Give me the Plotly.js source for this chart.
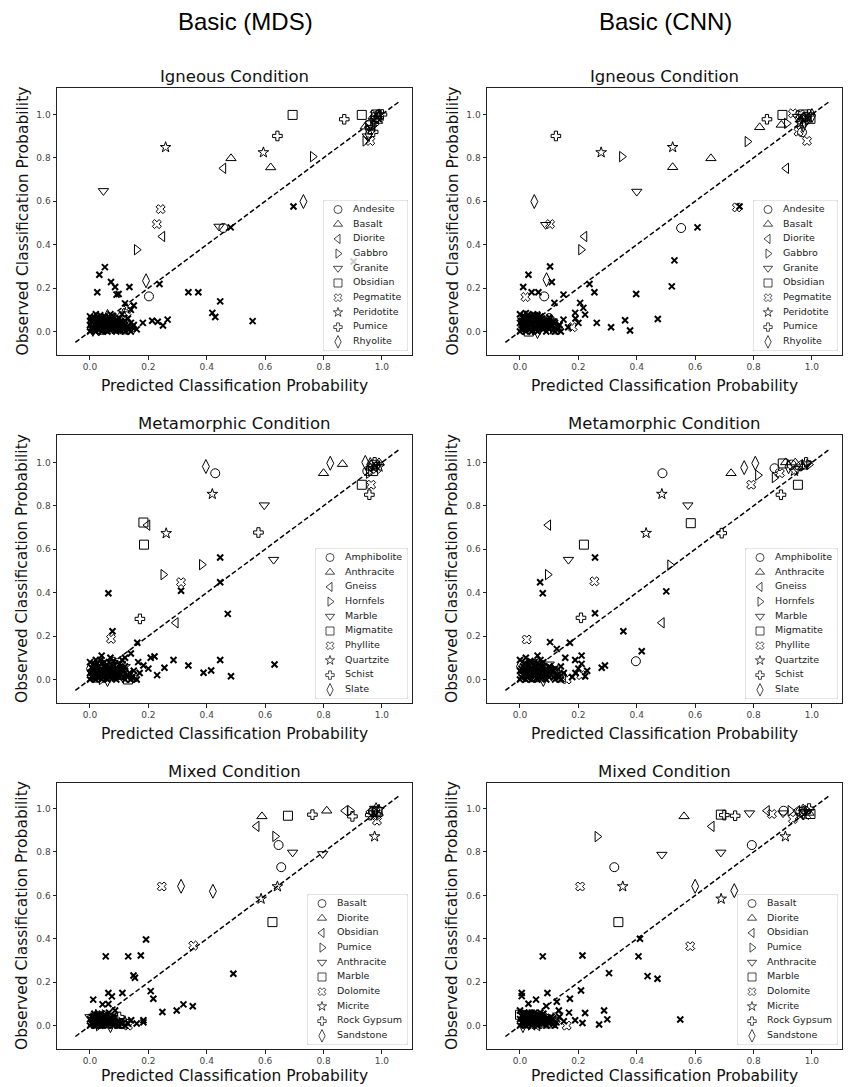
<!DOCTYPE html>
<html>
<head>
<meta charset="utf-8">
<script src="https://cdn.plot.ly/plotly-3.0.1.min.js"></script>
<style>html,body{margin:0;padding:0;background:#fff}#chart{width:849px;height:1087px}</style>
</head>
<body>
<div id="chart"></div>
<script>
// ---------- categories & labels ----------
const COLUMN_TITLES = ['Basic (MDS)', 'Basic (CNN)'];
const ROW_TITLES = ['Igneous Condition', 'Metamorphic Condition', 'Mixed Condition'];
const X_LABEL = 'Predicted Classification Probability';
const Y_LABEL = 'Observed Classification Probability';
const TICKS = [0, 0.2, 0.4, 0.6, 0.8, 1.0];
const DIAGONAL = [-0.05, 1.06];

const IGNEOUS_CLASSES = ['Andesite','Basalt','Diorite','Gabbro','Granite','Obsidian','Pegmatite','Peridotite','Pumice','Rhyolite'];
const METAMORPHIC_CLASSES = ['Amphibolite','Anthracite','Gneiss','Hornfels','Marble','Migmatite','Phyllite','Quartzite','Schist','Slate'];
const MIXED_CLASSES = ['Basalt','Diorite','Obsidian','Pumice','Anthracite','Marble','Dolomite','Micrite','Rock Gypsum','Sandstone'];

// ---------- Igneous, MDS ----------
const IGN_MDS_ANDESITE = [[0.457,0.477],[0.202,0.162],[0.96,0.93],[0.975,0.975],[0.04,0.03],[0.09,0.02],[0.11,0.07]];
const IGN_MDS_BASALT = [[0.483,0.798],[0.619,0.756],[0.943,0.944],[0.97,0.99],[0.985,0.97],[0.03,0.05],[0.07,0.02]];
const IGN_MDS_DIORITE = [[0.457,0.752],[0.248,0.438],[0.955,0.96],[0.99,0.995],[0.05,0.06],[0.02,0.02]];
const IGN_MDS_GABBRO = [[0.763,0.806],[0.16,0.377],[0.943,0.878],[0.975,0.955],[0.06,0.01],[0.1,0.04]];
const IGN_MDS_GRANITE = [[0.046,0.648],[0.442,0.484],[0.95,0.9],[0.98,0.98],[0.03,0.0],[0.08,0.06]];
const IGN_MDS_OBSIDIAN = [[0.694,0.998],[0.931,0.998],[0.98,1.0],[0.96,0.95],[0.01,0.04],[0.12,0.01]];
const IGN_MDS_PEGMATITE = [[0.242,0.564],[0.229,0.495],[0.96,0.878],[0.975,1.0],[0.99,0.985],[0.131,0.109],[0.125,0.088],[0.05,0.02]];
const IGN_MDS_PERIDOTITE = [[0.259,0.849],[0.594,0.825],[0.965,0.94],[0.99,1.0],[0.02,0.06],[0.07,0.04]];
const IGN_MDS_PUMICE = [[0.871,0.978],[0.642,0.901],[0.97,0.92],[1.0,1.0],[0.04,0.01],[0.09,0.05]];
const IGN_MDS_RHYOLITE = [[0.731,0.599],[0.192,0.234],[0.955,0.91],[0.985,0.99],[0.01,0.01],[0.06,0.07]];
const IGN_MDS_OTHER = [[0.051,0.297],[0.032,0.262],[0.072,0.228],[0.086,0.205],[0.135,0.205],[0.025,0.181],[0.091,0.17],[0.098,0.173],[0.238,0.219],[0.337,0.181],[0.371,0.181],[0.446,0.139],[0.419,0.086],[0.429,0.067],[0.557,0.048],[0.697,0.576],[0.482,0.48],[0.903,0.323],[0.181,0.04],[0.213,0.05],[0.232,0.045],[0.25,0.028],[0.266,0.055],[0.15,0.12],[0.14,0.1],[0.12,0.13],
 [0.0,0.0],[0.01,0.01],[0.02,0.0],[0.0,0.03],[0.01,0.05],[0.0,0.07],[0.02,0.03],[0.03,0.01],[0.03,0.06],[0.02,0.08],[0.04,0.0],[0.04,0.04],[0.05,0.02],[0.05,0.07],[0.06,0.0],[0.06,0.05],[0.07,0.03],[0.07,0.08],[0.08,0.01],[0.08,0.05],[0.09,0.0],[0.09,0.03],[0.1,0.06],[0.1,0.01],[0.11,0.03],[0.12,0.0],[0.12,0.05],[0.13,0.02],[0.14,0.0],[0.15,0.03],[0.015,0.065],[0.035,0.025],[0.045,0.055],[0.055,0.035],[0.065,0.065],[0.075,0.015],[0.085,0.04],[0.095,0.02],[0.105,0.045],[0.115,0.01],[0.01,0.02],[0.025,0.045],[0.16,0.01],[0.11,0.08],[0.13,0.06],
 [0.005,0.015],[0.005,0.045],[0.015,0.005],[0.015,0.035],[0.025,0.015],[0.025,0.065],[0.035,0.045],[0.035,0.075],[0.045,0.01],[0.045,0.03],[0.055,0.005],[0.055,0.055],[0.065,0.015],[0.065,0.04],[0.075,0.035],[0.075,0.055],[0.085,0.005],[0.085,0.025],[0.095,0.045],[0.105,0.02],[0.105,0.005],[0.115,0.04],[0.125,0.02],[0.135,0.01],[0.145,0.02],[0.005,0.06],[0.02,0.055],[0.04,0.065],[0.06,0.025],[0.08,0.07],[0.1,0.035],[0.12,0.03],[0.14,0.04],[0.03,0.04]];

// ---------- Igneous, CNN ----------
const IGN_CNN_ANDESITE = [[0.552,0.477],[0.083,0.162],[0.966,0.918],[0.98,0.99],[0.03,0.03],[0.08,0.05]];
const IGN_CNN_BASALT = [[0.523,0.757],[0.654,0.798],[0.821,0.941],[0.895,0.952],[0.97,0.99],[0.04,0.06],[0.1,0.02]];
const IGN_CNN_DIORITE = [[0.912,0.752],[0.221,0.438],[0.96,0.97],[0.99,0.99],[0.02,0.02],[0.06,0.07]];
const IGN_CNN_GABBRO = [[0.349,0.806],[0.779,0.875],[0.914,0.959],[0.209,0.377],[0.985,0.97],[0.05,0.01]];
const IGN_CNN_GRANITE = [[0.4,0.645],[0.088,0.492],[0.95,0.99],[0.975,0.96],[0.01,0.05],[0.09,0.03]];
const IGN_CNN_OBSIDIAN = [[0.899,0.998],[0.97,1.0],[0.995,0.98],[0.03,0.0],[0.12,0.01]];
const IGN_CNN_PEGMATITE = [[0.935,1.005],[0.954,0.921],[0.983,0.878],[0.743,0.572],[0.103,0.495],[0.019,0.159],[0.96,1.0],[0.07,0.04],[0.18,0.02]];
const IGN_CNN_PERIDOTITE = [[0.278,0.825],[0.523,0.849],[0.975,0.985],[0.96,0.96],[0.02,0.07],[0.11,0.05]];
const IGN_CNN_PUMICE = [[0.123,0.901],[0.846,0.978],[0.99,1.0],[0.04,0.02],[0.1,0.06]];
const IGN_CNN_RHYOLITE = [[0.049,0.599],[0.091,0.239],[0.97,0.95],[1.0,0.995],[0.06,0.0],[0.01,0.03]];
const IGN_CNN_OTHER = [[0.752,0.576],[0.608,0.48],[0.529,0.328],[0.52,0.208],[0.103,0.3],[0.029,0.262],[0.109,0.228],[0.011,0.205],[0.04,0.181],[0.063,0.181],[0.238,0.219],[0.255,0.181],[0.149,0.17],[0.118,0.132],[0.398,0.173],[0.206,0.132],[0.217,0.109],[0.189,0.086],[0.223,0.078],[0.263,0.04],[0.312,0.02],[0.36,0.052],[0.377,0.005],[0.472,0.058],[0.2,0.04],[0.149,0.055],[0.135,0.03],[0.165,0.02],[0.19,0.06],
 [0.0,0.0],[0.01,0.02],[0.02,0.0],[0.0,0.04],[0.01,0.06],[0.0,0.08],[0.02,0.04],[0.03,0.02],[0.03,0.07],[0.02,0.085],[0.04,0.0],[0.04,0.05],[0.05,0.02],[0.05,0.075],[0.06,0.0],[0.06,0.05],[0.07,0.03],[0.07,0.07],[0.08,0.01],[0.08,0.05],[0.09,0.0],[0.09,0.03],[0.1,0.05],[0.1,0.01],[0.11,0.03],[0.12,0.0],[0.12,0.04],[0.13,0.02],[0.14,0.0],[0.015,0.07],[0.035,0.03],[0.045,0.06],[0.055,0.04],[0.065,0.065],[0.075,0.015],[0.085,0.04],[0.095,0.02],[0.105,0.04],[0.115,0.01],[0.01,0.03],[0.025,0.05],
 [0.005,0.01],[0.005,0.05],[0.015,0.015],[0.015,0.045],[0.025,0.025],[0.025,0.075],[0.035,0.05],[0.035,0.01],[0.045,0.035],[0.045,0.08],[0.055,0.01],[0.055,0.06],[0.065,0.02],[0.065,0.045],[0.075,0.04],[0.075,0.06],[0.085,0.02],[0.095,0.04],[0.105,0.025],[0.115,0.045],[0.125,0.01],[0.135,0.03],[0.02,0.065],[0.06,0.075],[0.08,0.03],[0.1,0.065],[0.03,0.045],[0.05,0.045]];

// ---------- Metamorphic, MDS ----------
const MET_MDS_AMPHIBOLITE = [[0.429,0.95],[0.97,0.99],[0.95,0.96],[0.03,0.02],[0.08,0.04]];
const MET_MDS_ANTHRACITE = [[0.8,0.95],[0.865,0.992],[0.96,0.975],[0.99,1.0],[0.05,0.05],[0.1,0.01]];
const MET_MDS_GNEISS = [[0.197,0.711],[0.294,0.261],[0.975,0.98],[0.02,0.06],[0.07,0.02]];
const MET_MDS_HORNFELS = [[0.383,0.529],[0.251,0.483],[0.955,0.95],[0.04,0.0],[0.11,0.05]];
const MET_MDS_MARBLE = [[0.597,0.803],[0.629,0.552],[0.985,0.99],[0.01,0.03],[0.09,0.07]];
const MET_MDS_MIGMATITE = [[0.183,0.723],[0.185,0.621],[0.931,0.897],[0.97,0.96],[0.06,0.04],[0.13,0.0]];
const MET_MDS_PHYLLITE = [[0.312,0.448],[0.072,0.187],[0.963,0.897],[0.98,0.97],[0.1,0.03],[0.15,0.01],[0.05,0.07]];
const MET_MDS_QUARTZITE = [[0.419,0.854],[0.261,0.673],[0.99,0.98],[0.03,0.04],[0.12,0.06]];
const MET_MDS_SCHIST = [[0.577,0.677],[0.171,0.279],[0.957,0.851],[0.975,1.0],[0.02,0.01],[0.08,0.08]];
const MET_MDS_SLATE = [[0.397,0.981],[0.823,0.996],[0.943,1.0],[0.96,0.99],[0.06,0.0],[0.0,0.05]];
const MET_MDS_OTHER = [[0.446,0.562],[0.446,0.448],[0.472,0.302],[0.312,0.409],[0.063,0.397],[0.077,0.222],[0.162,0.169],[0.221,0.106],[0.255,0.054],[0.286,0.09],[0.337,0.064],[0.389,0.031],[0.415,0.041],[0.446,0.09],[0.483,0.015],[0.632,0.069],[0.183,0.064],[0.208,0.1],[0.165,0.08],[0.14,0.12],[0.12,0.1],[0.17,0.03],[0.2,0.05],[0.23,0.02],
 [0.0,0.0],[0.01,0.01],[0.02,0.0],[0.0,0.03],[0.01,0.05],[0.0,0.08],[0.02,0.03],[0.03,0.01],[0.03,0.06],[0.02,0.09],[0.04,0.0],[0.04,0.04],[0.05,0.02],[0.05,0.08],[0.06,0.0],[0.06,0.05],[0.07,0.03],[0.07,0.1],[0.08,0.01],[0.08,0.06],[0.09,0.0],[0.09,0.03],[0.1,0.07],[0.1,0.01],[0.11,0.04],[0.12,0.0],[0.12,0.06],[0.13,0.02],[0.14,0.0],[0.15,0.04],[0.015,0.07],[0.035,0.025],[0.045,0.06],[0.055,0.035],[0.065,0.08],[0.075,0.015],[0.085,0.045],[0.095,0.02],[0.105,0.05],[0.115,0.01],[0.16,0.0],[0.04,0.11],[0.11,0.09],
 [0.005,0.015],[0.005,0.055],[0.015,0.005],[0.015,0.04],[0.025,0.015],[0.025,0.075],[0.035,0.045],[0.035,0.09],[0.045,0.01],[0.045,0.03],[0.055,0.005],[0.055,0.06],[0.065,0.02],[0.065,0.045],[0.075,0.04],[0.075,0.065],[0.085,0.005],[0.085,0.025],[0.095,0.05],[0.105,0.025],[0.115,0.045],[0.125,0.015],[0.135,0.03],[0.145,0.01],[0.02,0.06],[0.04,0.075],[0.06,0.03],[0.08,0.085],[0.1,0.04],[0.03,0.04]];

// ---------- Metamorphic, CNN ----------
const MET_CNN_AMPHIBOLITE = [[0.488,0.95],[0.397,0.084],[0.872,0.973],[0.93,0.99],[0.03,0.03],[0.09,0.05]];
const MET_CNN_ANTHRACITE = [[0.723,0.95],[0.943,0.999],[0.91,1.0],[0.97,0.98],[0.05,0.0],[0.12,0.04]];
const MET_CNN_GNEISS = [[0.097,0.711],[0.486,0.261],[0.96,0.99],[0.02,0.05],[0.08,0.02]];
const MET_CNN_HORNFELS = [[0.815,0.941],[0.872,0.93],[0.514,0.527],[0.095,0.483],[0.99,0.99],[0.06,0.06]];
const MET_CNN_MARBLE = [[0.575,0.803],[0.166,0.552],[0.983,0.992],[0.95,0.97],[0.01,0.02],[0.1,0.07]];
const MET_CNN_MIGMATITE = [[0.585,0.72],[0.219,0.621],[0.952,0.897],[0.9,0.995],[0.04,0.07],[0.14,0.01]];
const MET_CNN_PHYLLITE = [[0.792,0.897],[0.255,0.452],[0.023,0.184],[0.89,0.95],[0.07,0.03],[0.16,0.0],[0.21,0.02]];
const MET_CNN_QUARTZITE = [[0.486,0.854],[0.432,0.674],[0.94,0.96],[0.03,0.01],[0.11,0.05]];
const MET_CNN_SCHIST = [[0.691,0.674],[0.894,0.851],[0.209,0.284],[0.98,1.0],[0.05,0.04],[0.13,0.03]];
const MET_CNN_SLATE = [[0.768,0.976],[0.806,0.996],[0.92,0.98],[0.0,0.06],[0.08,0.0]];
const MET_CNN_OTHER = [[0.257,0.562],[0.069,0.448],[0.078,0.397],[0.257,0.305],[0.501,0.406],[0.354,0.222],[0.417,0.13],[0.28,0.054],[0.291,0.064],[0.211,0.11],[0.211,0.072],[0.223,0.015],[0.179,0.011],[0.19,0.03],[0.171,0.169],[0.103,0.172],[0.126,0.141],[0.189,0.09],[0.155,0.1],[0.14,0.06],[0.2,0.05],[0.23,0.04],
 [0.0,0.0],[0.01,0.02],[0.02,0.0],[0.0,0.04],[0.01,0.06],[0.0,0.09],[0.02,0.04],[0.03,0.02],[0.03,0.07],[0.02,0.1],[0.04,0.0],[0.04,0.05],[0.05,0.02],[0.05,0.08],[0.06,0.0],[0.06,0.05],[0.07,0.03],[0.07,0.09],[0.08,0.01],[0.08,0.06],[0.09,0.0],[0.09,0.03],[0.1,0.06],[0.1,0.01],[0.11,0.04],[0.12,0.0],[0.12,0.05],[0.13,0.02],[0.14,0.0],[0.015,0.075],[0.035,0.03],[0.045,0.065],[0.055,0.035],[0.065,0.07],[0.075,0.015],[0.085,0.045],[0.095,0.02],[0.105,0.05],[0.115,0.01],[0.15,0.03],[0.06,0.11],
 [0.005,0.01],[0.005,0.05],[0.015,0.02],[0.015,0.045],[0.025,0.01],[0.025,0.06],[0.035,0.05],[0.035,0.085],[0.045,0.02],[0.045,0.04],[0.055,0.005],[0.055,0.06],[0.065,0.02],[0.065,0.045],[0.075,0.04],[0.075,0.075],[0.085,0.005],[0.085,0.025],[0.095,0.045],[0.105,0.025],[0.115,0.04],[0.125,0.02],[0.135,0.01],[0.02,0.07],[0.04,0.08],[0.06,0.03],[0.08,0.08],[0.1,0.035],[0.03,0.045]];

// ---------- Mixed, MDS ----------
const MIX_MDS_BASALT = [[0.646,0.832],[0.655,0.73],[0.97,0.99],[0.02,0.02],[0.06,0.01]];
const MIX_MDS_DIORITE = [[0.589,0.964],[0.811,0.99],[0.98,0.98],[0.04,0.04],[0.1,0.0]];
const MIX_MDS_OBSIDIAN = [[0.571,0.918],[0.874,0.99],[0.96,0.985],[0.01,0.01],[0.08,0.03]];
const MIX_MDS_PUMICE = [[0.634,0.872],[0.891,0.99],[0.99,0.97],[0.03,0.0],[0.05,0.05]];
const MIX_MDS_ANTHRACITE = [[0.694,0.798],[0.797,0.791],[0.975,1.0],[0.07,0.02],[0.0,0.04]];
const MIX_MDS_MARBLE = [[0.678,0.967],[0.625,0.477],[0.985,0.985],[0.05,0.03],[0.11,0.01]];
const MIX_MDS_DOLOMITE = [[0.246,0.641],[0.354,0.369],[0.983,0.944],[0.97,0.97],[0.09,0.02],[0.13,0.0]];
const MIX_MDS_MICRITE = [[0.642,0.641],[0.586,0.584],[0.975,0.871],[0.99,0.995],[0.02,0.05],[0.12,0.02]];
const MIX_MDS_ROCK_GYPSUM = [[0.762,0.972],[0.899,0.964],[0.96,0.97],[0.04,0.01],[0.1,0.04]];
const MIX_MDS_SANDSTONE = [[0.312,0.642],[0.421,0.619],[0.98,0.995],[0.01,0.03],[0.07,0.0]];
const MIX_MDS_OTHER = [[0.192,0.397],[0.054,0.319],[0.131,0.319],[0.174,0.323],[0.149,0.231],[0.154,0.221],[0.491,0.239],[0.063,0.15],[0.075,0.135],[0.111,0.15],[0.208,0.159],[0.217,0.124],[0.011,0.12],[0.043,0.098],[0.063,0.1],[0.086,0.07],[0.248,0.063],[0.297,0.07],[0.32,0.098],[0.352,0.089],[0.183,0.025],[0.183,0.015],[0.141,0.025],[0.12,0.0],[0.16,0.01],[0.13,0.01],
 [0.0,0.0],[0.01,0.01],[0.02,0.0],[0.0,0.03],[0.01,0.04],[0.02,0.02],[0.03,0.01],[0.03,0.05],[0.04,0.0],[0.04,0.03],[0.05,0.01],[0.05,0.05],[0.06,0.0],[0.06,0.03],[0.07,0.01],[0.07,0.04],[0.08,0.0],[0.08,0.02],[0.09,0.01],[0.1,0.0],[0.015,0.055],[0.035,0.02],[0.045,0.045],[0.055,0.025],[0.065,0.06],[0.075,0.015],[0.085,0.035],[0.095,0.02],[0.11,0.01],[0.025,0.035],
 [0.005,0.01],[0.005,0.04],[0.015,0.02],[0.015,0.0],[0.025,0.01],[0.025,0.05],[0.035,0.035],[0.035,0.0],[0.045,0.015],[0.045,0.03],[0.055,0.005],[0.055,0.04],[0.065,0.01],[0.065,0.03],[0.075,0.03],[0.085,0.01],[0.095,0.0],[0.105,0.015],[0.02,0.045],[0.04,0.055],[0.06,0.02],[0.08,0.045],[0.03,0.025]];

// ---------- Mixed, CNN ----------
const MIX_CNN_BASALT = [[0.794,0.832],[0.323,0.73],[0.903,0.99],[0.96,0.985],[0.02,0.01],[0.07,0.03]];
const MIX_CNN_DIORITE = [[0.562,0.964],[0.97,1.0],[0.99,0.98],[0.04,0.05],[0.1,0.0]];
const MIX_CNN_OBSIDIAN = [[0.657,0.918],[0.846,0.99],[0.95,0.99],[0.01,0.03],[0.06,0.0]];
const MIX_CNN_PUMICE = [[0.265,0.871],[0.926,0.99],[0.985,0.99],[0.03,0.02],[0.09,0.04]];
const MIX_CNN_ANTHRACITE = [[0.786,0.979],[0.486,0.788],[0.688,0.798],[0.901,0.979],[0.975,0.985],[0.05,0.04],[0.12,0.01]];
const MIX_CNN_MARBLE = [[0.688,0.972],[0.337,0.477],[0.995,0.975],[0.0,0.05],[0.08,0.02]];
const MIX_CNN_DOLOMITE = [[0.206,0.641],[0.583,0.366],[0.863,0.975],[0.935,0.952],[0.98,0.97],[0.11,0.03],[0.16,0.0]];
const MIX_CNN_MICRITE = [[0.352,0.641],[0.689,0.584],[0.909,0.871],[0.96,0.97],[0.04,0.0],[0.13,0.05]];
const MIX_CNN_ROCK_GYPSUM = [[0.737,0.967],[0.7,0.97],[0.99,1.0],[0.02,0.04],[0.07,0.01]];
const MIX_CNN_SANDSTONE = [[0.6,0.642],[0.734,0.622],[0.97,0.98],[0.01,0.0],[0.1,0.02]];
const MIX_CNN_OTHER = [[0.411,0.4],[0.406,0.319],[0.078,0.319],[0.214,0.323],[0.305,0.242],[0.437,0.228],[0.471,0.216],[0.006,0.15],[0.006,0.136],[0.094,0.15],[0.209,0.162],[0.055,0.12],[0.029,0.101],[0.171,0.124],[0.126,0.11],[0.09,0.09],[0.133,0.07],[0.168,0.06],[0.223,0.058],[0.288,0.07],[0.299,0.029],[0.271,0.005],[0.549,0.028],[0.189,0.025],[0.214,0.012],[0.15,0.02],[0.135,0.04],
 [0.0,0.0],[0.01,0.01],[0.02,0.0],[0.0,0.03],[0.01,0.05],[0.0,0.07],[0.02,0.03],[0.03,0.01],[0.03,0.06],[0.04,0.0],[0.04,0.04],[0.05,0.02],[0.05,0.06],[0.06,0.0],[0.06,0.04],[0.07,0.02],[0.07,0.06],[0.08,0.01],[0.08,0.04],[0.09,0.0],[0.09,0.03],[0.1,0.01],[0.11,0.03],[0.12,0.0],[0.015,0.06],[0.035,0.025],[0.045,0.05],[0.055,0.03],[0.065,0.05],[0.075,0.01],[0.085,0.03],[0.095,0.015],[0.105,0.04],[0.115,0.01],[0.025,0.04],
 [0.005,0.015],[0.005,0.045],[0.015,0.005],[0.015,0.035],[0.025,0.015],[0.025,0.055],[0.035,0.04],[0.045,0.015],[0.045,0.03],[0.055,0.005],[0.055,0.045],[0.065,0.015],[0.065,0.035],[0.075,0.03],[0.085,0.015],[0.095,0.035],[0.105,0.02],[0.125,0.015],[0.02,0.05],[0.04,0.06],[0.06,0.025],[0.08,0.055],[0.1,0.03],[0.03,0.035]];

// ---------- build ----------
const W = 849, H = 1087;
const COLS = [{l:57, r:412}, {l:487, r:842}];
const ROWS = [{t:88, b:355}, {t:435, b:703}, {t:783, b:1049}];
const XLABEL_CENTER = [386, 734, 1076];
const XR = [-0.113, 1.103], YR = [-0.108, 1.122];
const SYMBOLS = ['circle-open','triangle-up-open','triangle-left-open','triangle-right-open','triangle-down-open','square-open','x-open','star-open','cross-open','diamond-tall-open'];
const SIZES = [9,9,9,9,9,9,8,8,8,10];
const LEGEND_SIZES = [8,8,8,8,8,8,7,7,7,9];
const LEGEND_W = [85,85,93,93,101,101];
const LEGEND_H = 151;
const FONT = 'DejaVu Sans';

const PANELS = [
  {title:ROW_TITLES[0], classes:IGNEOUS_CLASSES, other:IGN_MDS_OTHER, data:[IGN_MDS_ANDESITE,IGN_MDS_BASALT,IGN_MDS_DIORITE,IGN_MDS_GABBRO,IGN_MDS_GRANITE,IGN_MDS_OBSIDIAN,IGN_MDS_PEGMATITE,IGN_MDS_PERIDOTITE,IGN_MDS_PUMICE,IGN_MDS_RHYOLITE]},
  {title:ROW_TITLES[0], classes:IGNEOUS_CLASSES, other:IGN_CNN_OTHER, data:[IGN_CNN_ANDESITE,IGN_CNN_BASALT,IGN_CNN_DIORITE,IGN_CNN_GABBRO,IGN_CNN_GRANITE,IGN_CNN_OBSIDIAN,IGN_CNN_PEGMATITE,IGN_CNN_PERIDOTITE,IGN_CNN_PUMICE,IGN_CNN_RHYOLITE]},
  {title:ROW_TITLES[1], classes:METAMORPHIC_CLASSES, other:MET_MDS_OTHER, data:[MET_MDS_AMPHIBOLITE,MET_MDS_ANTHRACITE,MET_MDS_GNEISS,MET_MDS_HORNFELS,MET_MDS_MARBLE,MET_MDS_MIGMATITE,MET_MDS_PHYLLITE,MET_MDS_QUARTZITE,MET_MDS_SCHIST,MET_MDS_SLATE]},
  {title:ROW_TITLES[1], classes:METAMORPHIC_CLASSES, other:MET_CNN_OTHER, data:[MET_CNN_AMPHIBOLITE,MET_CNN_ANTHRACITE,MET_CNN_GNEISS,MET_CNN_HORNFELS,MET_CNN_MARBLE,MET_CNN_MIGMATITE,MET_CNN_PHYLLITE,MET_CNN_QUARTZITE,MET_CNN_SCHIST,MET_CNN_SLATE]},
  {title:ROW_TITLES[2], classes:MIXED_CLASSES, other:MIX_MDS_OTHER, data:[MIX_MDS_BASALT,MIX_MDS_DIORITE,MIX_MDS_OBSIDIAN,MIX_MDS_PUMICE,MIX_MDS_ANTHRACITE,MIX_MDS_MARBLE,MIX_MDS_DOLOMITE,MIX_MDS_MICRITE,MIX_MDS_ROCK_GYPSUM,MIX_MDS_SANDSTONE]},
  {title:ROW_TITLES[2], classes:MIXED_CLASSES, other:MIX_CNN_OTHER, data:[MIX_CNN_BASALT,MIX_CNN_DIORITE,MIX_CNN_OBSIDIAN,MIX_CNN_PUMICE,MIX_CNN_ANTHRACITE,MIX_CNN_MARBLE,MIX_CNN_DOLOMITE,MIX_CNN_MICRITE,MIX_CNN_ROCK_GYPSUM,MIX_CNN_SANDSTONE]}
];

const AX = {
  showgrid:false, zeroline:false, showline:true, mirror:true, linecolor:'#222', linewidth:1,
  ticks:'outside', ticklen:3.5, tickwidth:1, tickcolor:'#222', tickvals:TICKS, tickformat:'.1f',
  tickfont:{family:FONT, size:9, color:'#444'}, fixedrange:true
};
const HIDDEN = {visible:false, fixedrange:true, showgrid:false, zeroline:false};

const traces = [], shapes = [], annotations = [];
const layout = {
  width:W, height:H, margin:{l:0,r:0,t:0,b:0},
  paper_bgcolor:'#ffffff', plot_bgcolor:'rgba(0,0,0,0)', showlegend:false,
  font:{family:FONT, color:'#111'}
};
const px = v => v / W, py = v => 1 - v / H;

COLUMN_TITLES.forEach((t, c) => {
  annotations.push({text:t, xref:'paper', yref:'paper', x:px(c === 0 ? 245 : 665), y:py(22),
    showarrow:false, xanchor:'center', yanchor:'middle',
    font:{family:'Liberation Sans', size:24, color:'#000'}});
});

PANELS.forEach((p, k) => {
  const row = Math.floor(k / 2), col = k % 2;
  const c = COLS[col], r = ROWS[row];
  const yr = [YR[0] * (r.b - r.t) / 267, YR[1] * (r.b - r.t) / 267];
  const n = k + 1, s = n === 1 ? '' : String(n);
  const xa = 'x' + s, ya = 'y' + s;
  layout['xaxis' + s] = Object.assign({}, AX, {domain:[px(c.l), px(c.r)], range:XR, anchor:ya});
  layout['yaxis' + s] = Object.assign({}, AX, {domain:[py(r.b), py(r.t)], range:yr, anchor:xa});

  traces.push({type:'scatter', mode:'lines', x:DIAGONAL, y:DIAGONAL, xaxis:xa, yaxis:ya,
    line:{color:'#000', width:1.5, dash:'5px,2.5px'}, hoverinfo:'skip'});
  p.data.forEach((pts, i) => {
    traces.push({type:'scatter', mode:'markers', name:p.classes[i], xaxis:xa, yaxis:ya,
      x:pts.map(d => d[0]), y:pts.map(d => d[1]),
      marker:{symbol:SYMBOLS[i], size:SIZES[i], color:'#000', line:{color:'#000', width:1}}});
  });
  traces.push({type:'scatter', mode:'markers', name:'other', xaxis:xa, yaxis:ya,
    x:p.other.map(d => d[0]), y:p.other.map(d => d[1]),
    marker:{symbol:'x-thin', size:6, color:'#000', line:{color:'#000', width:2}}});

  annotations.push({text:p.title, xref:'paper', yref:'paper', x:px((c.l + c.r) / 2), y:py(r.t - 12),
    showarrow:false, xanchor:'center', yanchor:'middle', font:{family:FONT, size:16.5, color:'#111'}});
  annotations.push({text:X_LABEL, xref:'paper', yref:'paper', x:px((c.l + c.r) / 2), y:py(XLABEL_CENTER[row]),
    showarrow:false, xanchor:'center', yanchor:'middle', font:{family:FONT, size:15.5, color:'#111'}});
  annotations.push({text:Y_LABEL, xref:'paper', yref:'paper', x:px(c.l - 35), y:py((r.t + r.b) / 2),
    showarrow:false, xanchor:'center', yanchor:'middle', textangle:-90, font:{family:FONT, size:15.5, color:'#111'}});

  // legend box on its own hidden axes (pixel units)
  const ln = k + 7, ls = String(ln);
  const lw = LEGEND_W[k];
  const boxR = c.r - 4, boxB = r.b - 4, boxL = boxR - lw, boxT = boxB - LEGEND_H;
  layout['xaxis' + ls] = Object.assign({}, HIDDEN, {domain:[px(boxL), px(boxR)], range:[0, lw], anchor:'y' + ls});
  layout['yaxis' + ls] = Object.assign({}, HIDDEN, {domain:[py(boxB), py(boxT)], range:[LEGEND_H, 0], anchor:'x' + ls});
  const rr = 2.5;
  shapes.push({type:'path', xref:'x' + ls, yref:'y' + ls, layer:'below',
    path:`M ${rr},0 H ${lw - rr} Q ${lw},0 ${lw},${rr} V ${LEGEND_H - rr} Q ${lw},${LEGEND_H} ${lw - rr},${LEGEND_H} H ${rr} Q 0,${LEGEND_H} 0,${LEGEND_H - rr} V ${rr} Q 0,0 ${rr},0 Z`,
    fillcolor:'rgba(255,255,255,0.8)', line:{color:'#cccccc', width:1}});
  const rowsY = p.classes.map((_, i) => 9.5 + i * 14.7);
  traces.push({type:'scatter', mode:'markers', xaxis:'x' + ls, yaxis:'y' + ls, cliponaxis:false,
    x:p.classes.map(() => 15), y:rowsY, hoverinfo:'skip',
    marker:{symbol:SYMBOLS, size:LEGEND_SIZES, color:'#000', line:{color:'#000', width:1}}});
  traces.push({type:'scatter', mode:'text', xaxis:'x' + ls, yaxis:'y' + ls, cliponaxis:false,
    x:p.classes.map(() => 30), y:rowsY, text:p.classes, textposition:'middle right', hoverinfo:'skip',
    textfont:{family:FONT, size:9.5, color:'#222'}});
});

layout.shapes = shapes;
layout.annotations = annotations;
Plotly.newPlot('chart', traces, layout, {staticPlot:true, displayModeBar:false});
</script>
</body>
</html>
